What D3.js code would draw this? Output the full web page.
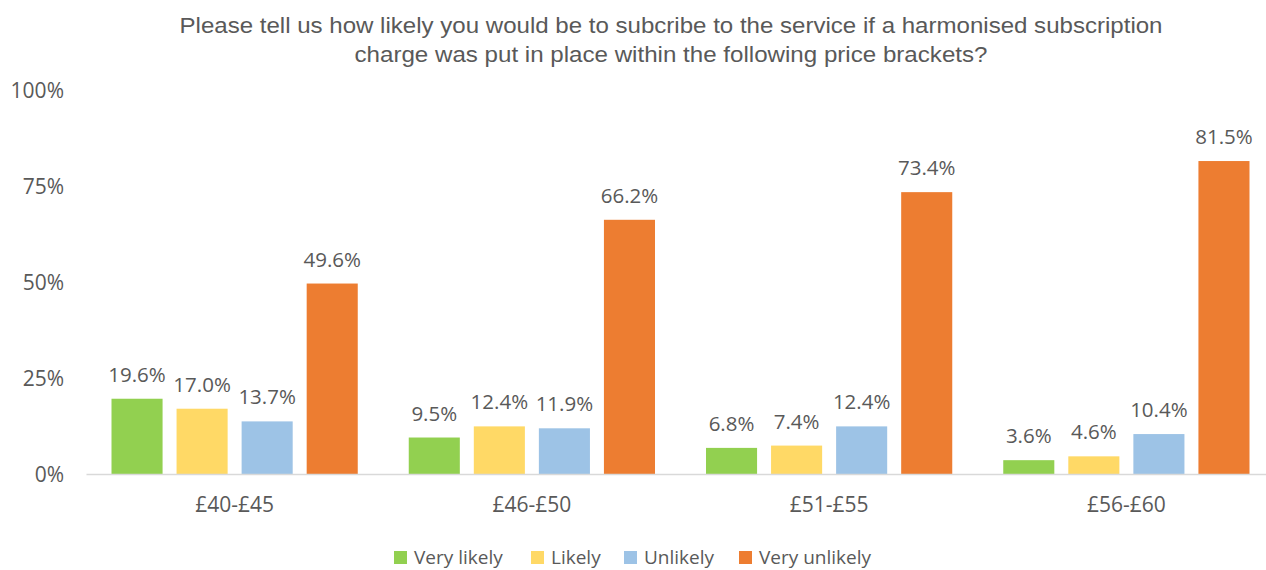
<!DOCTYPE html>
<html>
<head>
<meta charset="utf-8">
<script src="https://cdn.jsdelivr.net/npm/d3@7"></script>
<style>
  html, body { margin: 0; padding: 0; background: #fff; }
  svg { display: block; }
</style>
</head>
<body>
<svg id="chart" width="1266" height="570"></svg>
<script>
// Price brackets and response shares (%)
const categories = ["£40-£45", "£46-£50", "£51-£55", "£56-£60"];
const seriesNames = ["Very likely", "Likely", "Unlikely", "Very unlikely"];
const veryLikely   = [19.6, 9.5, 6.8, 3.6];
const likely       = [17.0, 12.4, 7.4, 4.6];
const unlikely     = [13.7, 11.9, 12.4, 10.4];
const veryUnlikely = [49.6, 66.2, 73.4, 81.5];
const yTicks = [0, 25, 50, 75, 100];
const colors = ["#92D050", "#FFD966", "#9DC3E6", "#ED7D31"];
const titleLines = [
  "Please tell us how likely you would be to subcribe to the service if a harmonised subscription",
  "charge was put in place within the following price brackets?"
];

const seriesValues = [veryLikely, likely, unlikely, veryUnlikely];
const rows = categories.map((c, i) => ({
  category: c,
  values: seriesNames.map((s, j) => ({ series: s, idx: j, value: seriesValues[j][i] }))
}));

const svg = d3.select("#chart");
const textColor = "#595959";
const numFont = "'Open Sans', 'Liberation Sans', sans-serif";

const x0 = d3.scaleBand().domain(categories).range([86, 1275]).paddingInner(0).paddingOuter(0);
const x1 = d3.scaleBand().domain(seriesNames)
  .range([25.5, x0.bandwidth() - 25.5]).paddingInner(0.215).paddingOuter(0);
const y = d3.scaleLinear().domain([0, 100]).range([474, 90]);

// Title (two centred lines, spread to a fixed width)
const titleWidths = [983, 633];
svg.append("g").selectAll("text").data(titleLines).join("text")
  .attr("x", 671).attr("y", (d, i) => 33 + i * 29)
  .attr("text-anchor", "middle")
  .attr("font-family", "'Liberation Sans', Arial, sans-serif")
  .attr("font-size", 21.5)
  .attr("fill", textColor)
  .attr("textLength", (d, i) => titleWidths[i])
  .attr("lengthAdjust", "spacingAndGlyphs")
  .text(d => d);

// Y axis labels (no axis line)
const yAxis = d3.axisLeft(y).tickValues(yTicks).tickFormat(d => d + "%").tickSize(0).tickPadding(0);
const gy = svg.append("g").attr("transform", "translate(64,0)").call(yAxis);
gy.select(".domain").remove();
gy.selectAll("text")
  .attr("font-family", numFont).attr("font-size", 21).attr("fill", textColor)
  .attr("dy", "0.36em");

// Bars
const groups = svg.append("g").selectAll("g").data(rows).join("g")
  .attr("transform", d => `translate(${x0(d.category)},0)`);

groups.selectAll("rect").data(d => d.values).join("rect")
  .attr("x", d => x1(d.series))
  .attr("width", x1.bandwidth())
  .attr("y", d => y(d.value))
  .attr("height", d => y(0) - y(d.value))
  .attr("fill", d => colors[d.idx]);

groups.selectAll("text").data(d => d.values).join("text")
  .attr("x", d => x1(d.series) + x1.bandwidth() / 2)
  .attr("y", d => y(d.value) - 17)
  .attr("text-anchor", "middle")
  .attr("font-family", numFont).attr("font-size", 20.5).attr("fill", textColor)
  .text(d => d.value.toFixed(1) + "%");

// X axis
const xAxis = d3.axisBottom(x0).tickSize(0).tickPadding(0);
const gx = svg.append("g").attr("transform", `translate(0,${y(0)})`).call(xAxis);
gx.select(".domain").attr("stroke", "#D9D9D9").attr("stroke-width", 1.5);
gx.selectAll("text")
  .attr("y", 38).attr("dy", 0)
  .attr("font-family", numFont).attr("font-size", 21).attr("fill", textColor);

// Legend
const legendX = [394, 531, 624, 739];
const legend = svg.append("g").selectAll("g").data(seriesNames).join("g")
  .attr("transform", (d, i) => `translate(${legendX[i]},551)`);
legend.append("rect").attr("width", 13).attr("height", 13).attr("fill", (d, i) => colors[i]);
legend.append("text").attr("x", 20).attr("y", 13)
  .attr("font-family", numFont).attr("font-size", 19).attr("fill", textColor)
  .text(d => d);
</script>
</body>
</html>
